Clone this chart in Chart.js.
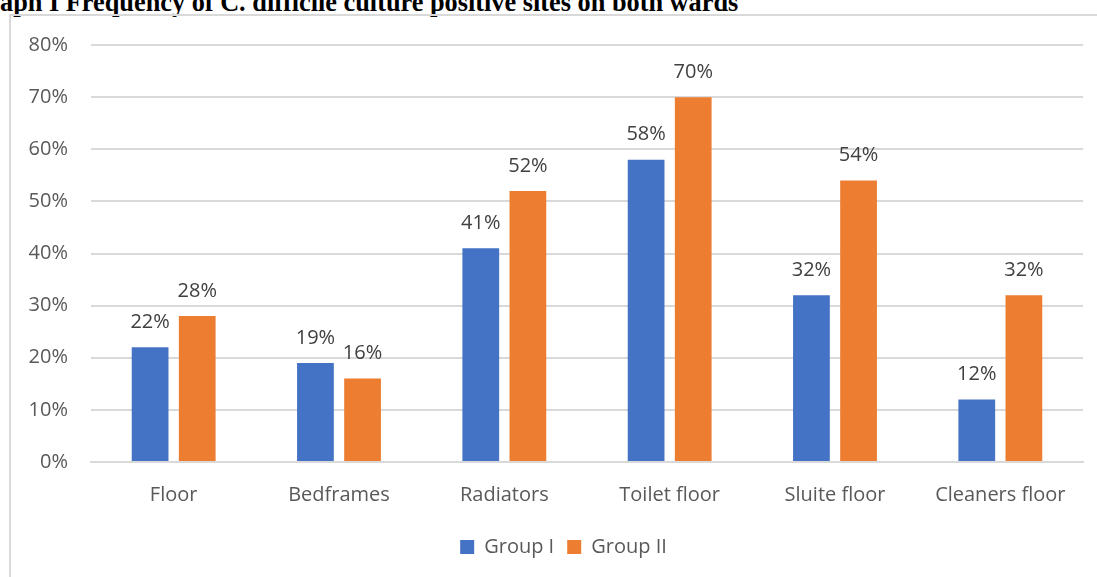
<!DOCTYPE html>
<html>
<head>
<meta charset="utf-8">
<script src="https://cdn.jsdelivr.net/npm/chart.js@4/dist/chart.umd.min.js"></script>
<style>
  html, body { margin: 0; padding: 0; background: #fff; overflow: hidden; }
  body { width: 1097px; height: 577px; position: relative; }
  #title {
    position: absolute; left: 0; top: -12px; white-space: nowrap;
    font: bold 26.3px "Liberation Serif", "Times New Roman", serif; color: #000;
  }
  #frame {
    position: absolute; left: 9px; top: 14px; width: 1100px; height: 600px;
    border-left: 2px solid #d9d9d9; border-top: 2px solid #d9d9d9;
  }
  #wrap { position: absolute; left: 0; top: 0; width: 1097px; height: 577px; }
</style>
</head>
<body>
<div id="title">aph I Frequency of C. difficile culture positive sites on both wards</div>
<div id="frame"></div>
<div id="wrap"><canvas id="chart"></canvas></div>
<script>
/* ================================================
   C. difficile positive sites – grouped bars
================================================ */

const sites = ['Floor', 'Bedframes', 'Radiators', 'Toilet floor', 'Sluite floor', 'Cleaners floor'];
const groupOne = [22, 19, 41, 58, 32, 12];
const groupTwo = [28, 16, 52, 70, 54, 32];
const yTicks = [0, 10, 20, 30, 40, 50, 60, 70, 80];

const textFont = '"Open Sans", "Noto Sans", sans-serif';

// labels above each bar
const valueLabels = {
  id: 'valueLabels',
  afterDatasetsDraw(chart) {
    const ctx = chart.ctx;
    ctx.save();
    ctx.font = '20px ' + textFont;
    ctx.fillStyle = '#404040';
    ctx.textAlign = 'center';
    ctx.textBaseline = 'middle';
    chart.data.datasets.forEach((ds, i) => {
      chart.getDatasetMeta(i).data.forEach((bar, j) => {
        ctx.fillText(ds.data[j] + '%', bar.x, bar.y - 25);
      });
    });
    ctx.restore();
  }
};

// legend is centred under the plot area, not the canvas
const legendShift = {
  id: 'legendShift',
  afterLayout(chart) {
    chart.legend.left += 22;
    chart.legend.right += 22;
  }
};

const ctx = document.getElementById('chart').getContext('2d');
new Chart(ctx, {
  type: 'bar',
  data: {
    labels: sites,
    datasets: [
      { label: 'Group I', data: groupOne, backgroundColor: '#4472c4' },
      { label: 'Group II', data: groupTwo, backgroundColor: '#ed7d31' }
    ]
  },
  options: {
    responsive: true,
    maintainAspectRatio: false,
    animation: false,
    datasets: { bar: { categoryPercentage: 0.57, barPercentage: 0.78 } },
    layout: { padding: { left: 0, right: 14, top: 45, bottom: 10 } },
    plugins: {
      legend: {
        position: 'bottom',
        labels: {
          boxWidth: 14, boxHeight: 14, padding: 13,
          color: '#595959', font: { family: textFont, size: 20 }
        }
      },
      tooltip: { enabled: false }
    },
    scales: {
      x: {
        grid: { display: false, drawTicks: false },
        border: { color: '#d9d9d9', width: 2 },
        ticks: { color: '#595959', padding: 21, font: { family: textFont, size: 20 } },
        afterFit: s => { s.height = 62; }
      },
      y: {
        min: 0, max: 80,
        afterBuildTicks: s => { s.ticks = yTicks.map(v => ({ value: v })); },
        grid: { color: '#d9d9d9', lineWidth: 2, drawTicks: false },
        border: { display: false },
        ticks: { color: '#595959', padding: 23, font: { family: textFont, size: 20 }, callback: v => v + '%' },
        afterFit: s => { s.width = 91; }
      }
    }
  },
  plugins: [valueLabels, legendShift]
});
</script>
</body>
</html>
